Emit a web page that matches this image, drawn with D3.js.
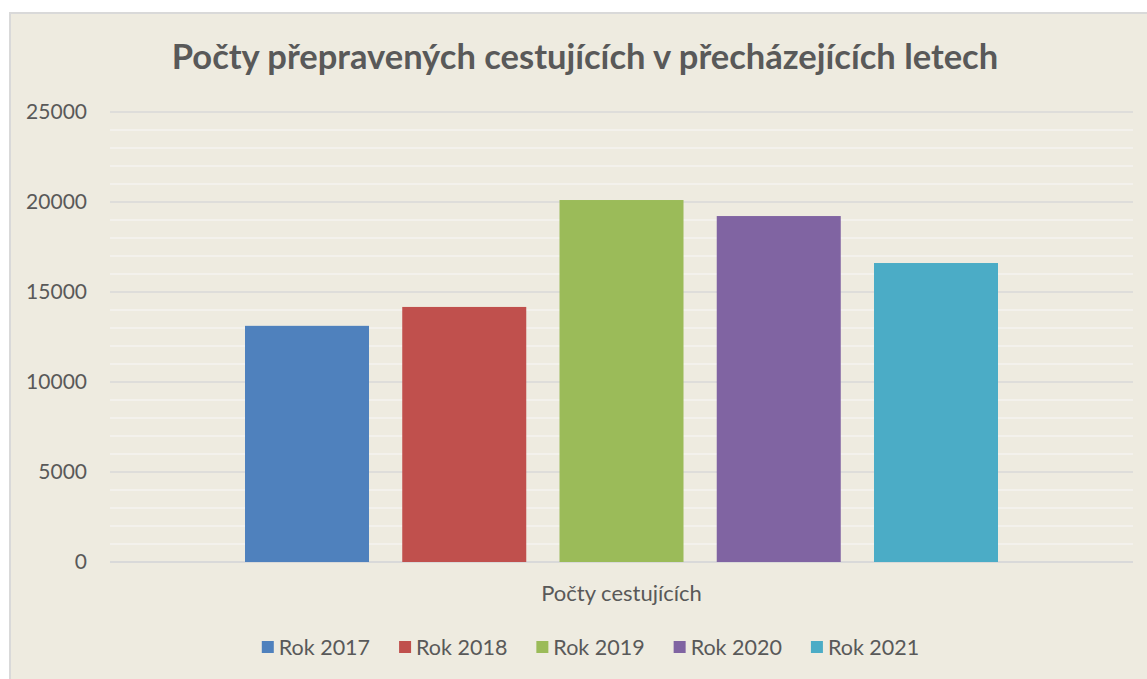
<!DOCTYPE html>
<html>
<head>
<meta charset="utf-8">
<script src="https://cdn.jsdelivr.net/npm/d3@7"></script>
<style>
  body { margin: 0; background: #fff; }
  svg { display: block; font-family: Lato, "Open Sans", sans-serif; }
</style>
</head>
<body>
<script>
// chart data
var title = "Počty přepravených cestujících v přecházejících letech";
var categoryLabel = "Počty cestujících";
var seriesNames = ["Rok 2017", "Rok 2018", "Rok 2019", "Rok 2020", "Rok 2021"];
var seriesValues = [13120, 14170, 20110, 19220, 16610];
var seriesColors = ["#4F81BD", "#C0504D", "#9BBB59", "#8064A2", "#4BACC6"];
var yTicks = [0, 5000, 10000, 15000, 20000, 25000];

var width = 1147;
var height = 679;
var plot = { left: 110, right: 1133, top: 112, bottom: 562 };

var svg = d3.select("body").append("svg")
    .attr("width", width)
    .attr("height", height);

// chart frame (runs off the right and bottom edge in the original)
svg.append("rect")
    .attr("x", 10).attr("y", 13)
    .attr("width", 1160).attr("height", 690)
    .attr("fill", "#EEEBE0")
    .attr("stroke", "#D9D9D9")
    .attr("stroke-width", 2);

var y = d3.scaleLinear()
    .domain([0, 25000])
    .range([plot.bottom, plot.top]);

var x = d3.scaleBand()
    .domain(seriesNames)
    .range([plot.left, plot.right])
    .paddingInner(0.2114)
    .paddingOuter(0.8585);

// minor gridlines every 1000
svg.append("g")
    .selectAll("line")
    .data(d3.range(1000, 25001, 1000).filter(d => d % 5000 !== 0))
    .join("line")
    .attr("x1", plot.left).attr("x2", plot.right)
    .attr("y1", d => y(d)).attr("y2", d => y(d))
    .attr("stroke", "#F4F3F0")
    .attr("stroke-width", 1.5);

// major gridlines
svg.append("g")
    .selectAll("line")
    .data(yTicks)
    .join("line")
    .attr("x1", plot.left).attr("x2", plot.right)
    .attr("y1", d => y(d)).attr("y2", d => y(d))
    .attr("stroke", "#D9D9D9")
    .attr("stroke-width", d => d === 0 ? 2 : 1.5);

// bars
svg.append("g")
    .selectAll("rect")
    .data(seriesNames)
    .join("rect")
    .attr("x", d => x(d))
    .attr("width", x.bandwidth())
    .attr("y", (d, i) => y(seriesValues[i]))
    .attr("height", (d, i) => y(0) - y(seriesValues[i]))
    .attr("fill", (d, i) => seriesColors[i]);

// y axis labels
var yAxis = svg.append("g")
    .attr("transform", "translate(" + (plot.left - 23) + ",0)")
    .call(d3.axisLeft(y).tickValues(yTicks).tickSize(0).tickPadding(0).tickFormat(d3.format("d")));
yAxis.select(".domain").remove();
yAxis.selectAll("text")
    .attr("fill", "#595959")
    .style("font-size", "21px")
    .style("font-family", "Lato, sans-serif");

// title
svg.append("text")
    .attr("x", 585).attr("y", 69)
    .attr("text-anchor", "middle")
    .attr("fill", "#595959")
    .style("font-size", "34.5px")
    .style("font-weight", "bold")
    .text(title);

// category label
svg.append("text")
    .attr("x", (plot.left + plot.right) / 2).attr("y", 601)
    .attr("text-anchor", "middle")
    .attr("fill", "#595959")
    .style("font-size", "22px")
    .text(categoryLabel);

// legend
var legend = svg.append("g");
var items = legend.selectAll("g")
    .data(seriesNames)
    .join("g");
items.append("rect")
    .attr("y", 641)
    .attr("width", 12).attr("height", 12)
    .attr("fill", (d, i) => seriesColors[i]);
items.append("text")
    .attr("x", 17).attr("y", 655)
    .attr("fill", "#595959")
    .style("font-size", "21.5px")
    .text(d => d);

var pos = 0;
var offsets = [];
items.each(function () {
    offsets.push(pos);
    pos += 17 + this.querySelector("text").getComputedTextLength() + 29;
});
var total = pos - 29;
var startX = 590.5 - total / 2;
items.attr("transform", (d, i) => "translate(" + (startX + offsets[i]) + ",0)");
</script>
</body>
</html>
